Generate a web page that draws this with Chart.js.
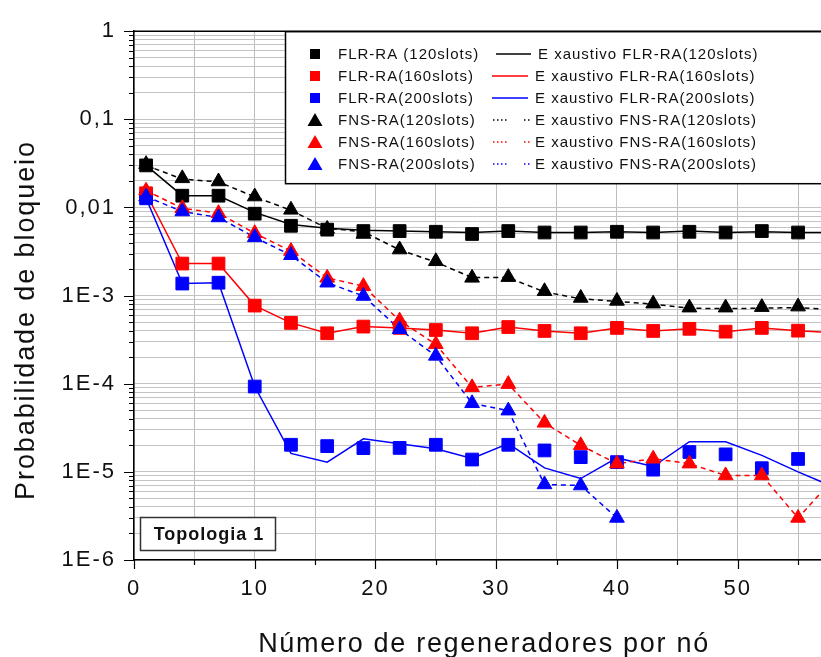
<!DOCTYPE html>
<html>
<head>
<meta charset="utf-8">
<script src="https://cdn.jsdelivr.net/npm/chart.js@4.4.1/dist/chart.umd.min.js"></script>
<style>
  html, body { margin: 0; padding: 0; background: #fff; overflow: hidden; }
  #wrap { width: 821px; height: 657px; overflow: hidden; }
  canvas { display: block; }
</style>
</head>
<body>
<div id="wrap"><canvas id="bloqueioChart" width="821" height="657"></canvas></div>
<script>
// eixo x: numero de regeneradores por no
const regeneradores = [1, 4, 7, 10, 13, 16, 19, 22, 25, 28, 31, 34, 37, 40, 43, 46, 49, 52, 55, 58];

// simulacao (marcadores)
const flr120 = [0.030, 0.0136, 0.0136, 0.0085, 0.0062, 0.0056, 0.0054, 0.0054, 0.0053, 0.0050, 0.0054, 0.0052, 0.0052, 0.0053, 0.0052, 0.0053, 0.0052, 0.0054, 0.0052];
const flr160 = [0.0145, 0.00231, 0.00231, 0.00077, 0.00049, 0.000374, 0.000445, 0.00043, 0.000407, 0.000374, 0.00044, 0.000397, 0.000374, 0.00043, 0.000397, 0.00042, 0.00039, 0.00043, 0.00040];
const flr200 = [0.0127, 0.00137, 0.0014, 9.3e-5, 2.03e-5, 1.96e-5, 1.86e-5, 1.87e-5, 2.03e-5, 1.38e-5, 2.03e-5, 1.75e-5, 1.47e-5, 1.29e-5, 1.06e-5, 1.68e-5, 1.58e-5, 1.1e-5, 1.4e-5];
const fns120 = [0.031, 0.0214, 0.0197, 0.0133, 0.0094, 0.0057, 0.0050, 0.00333, 0.00245, 0.00159, 0.00162, 0.00112, 0.00094, 0.00087, 0.00081, 0.00073, 0.00073, 0.00074, 0.00075];
const fns160 = [0.0155, 0.0098, 0.0086, 0.0051, 0.0032, 0.00159, 0.00128, 0.00052, 0.00028, 9.1e-5, 9.9e-5, 3.6e-5, 2.0e-5, 1.24e-5, 1.41e-5, 1.24e-5, 9.1e-6, 9.1e-6, 3.0e-6];
const fns200 = [0.0133, 0.0090, 0.0077, 0.00458, 0.00287, 0.0014, 0.00099, 0.000415, 0.000207, 6.0e-5, 4.95e-5, 7.2e-6, 7.0e-6, 3.0e-6];

// exaustivo (linhas)
const exFlr120 = [0.030, 0.0136, 0.0136, 0.0088, 0.0064, 0.0058, 0.0055, 0.0054, 0.0053, 0.0052, 0.0054, 0.0052, 0.0052, 0.0053, 0.0052, 0.0054, 0.0052, 0.0053, 0.0052, 0.0052];
const exFlr160 = [0.0145, 0.00231, 0.00231, 0.00077, 0.00049, 0.000374, 0.000445, 0.00043, 0.000407, 0.000374, 0.00044, 0.000397, 0.000374, 0.00043, 0.000397, 0.00042, 0.00039, 0.00043, 0.00040, 0.00038];
const exFlr200 = [0.0127, 0.00137, 0.0014, 9.3e-5, 1.62e-5, 1.29e-5, 2.37e-5, 2.09e-5, 1.83e-5, 1.42e-5, 2.09e-5, 1.11e-5, 8.4e-6, 1.44e-5, 1.15e-5, 2.2e-5, 2.2e-5, 1.54e-5, 1.0e-5, 6.7e-6];
const exFns120 = [0.030, 0.021, 0.0195, 0.0132, 0.0093, 0.0058, 0.0053, 0.0033, 0.0024, 0.0016, 0.0016, 0.0011, 0.00092, 0.00086, 0.0008, 0.00072, 0.00071, 0.00072, 0.00073, 0.00069];
const exFns160 = [0.0155, 0.0098, 0.0086, 0.0051, 0.0032, 0.00159, 0.00128, 0.00052, 0.00028, 9.1e-5, 9.9e-5, 3.6e-5, 2.0e-5, 1.24e-5, 1.41e-5, 1.24e-5, 9.1e-6, 9.1e-6, 3.0e-6, 8.5e-6];
const exFns200 = [0.0133, 0.0090, 0.0077, 0.00458, 0.00287, 0.0014, 0.00099, 0.000415, 0.000207, 6.0e-5, 4.95e-5, 7.2e-6, 7.0e-6, 3.0e-6];

// ticks
const xTickLabels = [0, 10, 20, 30, 40, 50];
const yTickValues = [1e-6, 1e-5, 1e-4, 1e-3, 0.01, 0.1, 1];
const yTickLabels = ['1E-6', '1E-5', '1E-4', '1E-3', '0,01', '0,1', '1'];

// legenda
const legendMarkerLabels = ['FLR-RA (120slots)', 'FLR-RA(160slots)', 'FLR-RA(200slots)', 'FNS-RA(120slots)', 'FNS-RA(160slots)', 'FNS-RA(200slots)'];
const legendLineLabels = ['E xaustivo FLR-RA(120slots)', 'E xaustivo FLR-RA(160slots)', 'E xaustivo FLR-RA(200slots)', 'E xaustivo FNS-RA(120slots)', 'E xaustivo FNS-RA(160slots)', 'E xaustivo FNS-RA(200slots)'];
const tituloX = 'Número de regeneradores por nó';
const tituloY = 'Probabilidade de bloqueio';
const topologia = 'Topologia 1';

const FONT = '"Liberation Sans", Arial, sans-serif';
const BLACK = '#000000', RED = '#ff0000', BLUE = '#0000ff';

const toPoints = vals => vals.map((v, i) => ({ x: regeneradores[i], y: v }));

// linhas de grade: 1..9 x cada decada
const yGrid = [];
for (let i = 0; i < yTickValues.length - 1; i++) {
  for (let m = 1; m <= 9; m++) yGrid.push(m * yTickValues[i]);
}
yGrid.push(1);

const markerSet = (label, vals, color, style, order) => ({
  label, data: toPoints(vals), showLine: false, order,
  pointStyle: style, pointRadius: style === 'rect' ? 9 : 8.5,
  backgroundColor: color, borderColor: color, pointBorderWidth: 1
});
const lineSet = (label, vals, color, dashed, order) => ({
  label, data: toPoints(vals), order,
  borderColor: color, borderWidth: 1.5, borderDash: dashed ? [5, 4] : [],
  pointRadius: 0, tension: 0, fill: false
});

// legenda, caixa topologia, titulos e marcas dos eixos
const decorPlugin = {
  id: 'decor',
  beforeDraw(chart) {
    chart.ctx.letterSpacing = '2px';
  },
  afterDatasetsDraw(chart) {
    const ctx = chart.ctx;
    const area = chart.chartArea;
    ctx.save();
    // borda superior
    ctx.strokeStyle = '#000';
    ctx.lineWidth = 1.5;
    ctx.beginPath();
    ctx.moveTo(area.left, area.top);
    ctx.lineTo(chart.width, area.top);
    ctx.stroke();

    // caixa da legenda
    ctx.fillStyle = '#fff';
    ctx.fillRect(285, area.top, 560, 152);
    ctx.strokeRect(285.5, area.top + 0.5, 560, 152);

    const colors = [BLACK, RED, BLUE, BLACK, RED, BLUE];
    ctx.font = '15px ' + FONT;
    ctx.letterSpacing = '1px';
    ctx.textBaseline = 'middle';
    ctx.textAlign = 'left';
    legendMarkerLabels.forEach((lab, i) => {
      const y = 54 + i * 22;
      const c = colors[i];
      ctx.fillStyle = c;
      if (i < 3) {
        ctx.fillRect(310, y - 5, 10, 10);
      } else {
        ctx.beginPath();
        ctx.moveTo(315, y - 7);
        ctx.lineTo(322.5, y + 6);
        ctx.lineTo(307.5, y + 6);
        ctx.closePath();
        ctx.fill();
      }
      ctx.fillStyle = '#111';
      ctx.fillText(lab, 338, y + 1);

      ctx.strokeStyle = c;
      ctx.lineWidth = 1.3;
      if (i < 3) {
        ctx.setLineDash([]);
        ctx.beginPath();
        ctx.moveTo(i === 0 ? 496 : 492, y);
        ctx.lineTo(i === 0 ? 531 : 528, y);
        ctx.stroke();
      } else {
        ctx.setLineDash([1.5, 2.5]);
        ctx.beginPath();
        ctx.moveTo(493, y);
        ctx.lineTo(508, y);
        ctx.moveTo(524, y);
        ctx.lineTo(531, y);
        ctx.stroke();
        ctx.setLineDash([]);
      }
      ctx.fillStyle = '#111';
      ctx.fillText(legendLineLabels[i], i === 0 ? 538 : 535, y + 1);
    });

    // caixa "Topologia 1"
    ctx.fillStyle = '#fff';
    ctx.fillRect(140, 517, 136, 34);
    ctx.strokeStyle = '#333';
    ctx.lineWidth = 1.5;
    ctx.strokeRect(140.5, 517.5, 135, 33);
    ctx.fillStyle = '#111';
    ctx.font = 'bold 18px ' + FONT;
    ctx.letterSpacing = '1px';
    ctx.textAlign = 'center';
    ctx.fillText(topologia, 209, 535);
    ctx.restore();
  },
  afterDraw(chart) {
    const ctx = chart.ctx;
    const xs = chart.scales.x, ys = chart.scales.y;
    const area = chart.chartArea;
    ctx.save();
    ctx.strokeStyle = '#000';
    ctx.lineWidth = 1.2;
    ctx.beginPath();
    for (let v = 0; v <= 55; v += 5) {
      const px = Math.round(xs.getPixelForValue(v)) + 0.5;
      ctx.moveTo(px, area.bottom);
      ctx.lineTo(px, area.bottom + (v % 10 === 0 ? 9 : 5));
    }
    yGrid.forEach(v => {
      const py = Math.round(ys.getPixelForValue(v)) + 0.5;
      ctx.moveTo(area.left, py);
      ctx.lineTo(area.left - (yTickValues.includes(v) ? 10 : 5), py);
    });
    ctx.stroke();

    // titulos dos eixos
    ctx.fillStyle = '#111';
    ctx.font = '27px ' + FONT;
    ctx.letterSpacing = '1.7px';
    ctx.textAlign = 'center';
    ctx.textBaseline = 'alphabetic';
    ctx.fillText(tituloX, 484, 652);
    ctx.translate(34, 320);
    ctx.rotate(-Math.PI / 2);
    ctx.letterSpacing = '1.9px';
    ctx.fillText(tituloY, 0, 0);
    ctx.restore();
  }
};

const ctxBloqueio = document.getElementById('bloqueioChart').getContext('2d');
const bloqueioChart = new Chart(ctxBloqueio, {
  type: 'line',
  data: {
    datasets: [
      markerSet('FLR-RA (120slots)', flr120, BLACK, 'rect', 6),
      markerSet('FLR-RA(160slots)', flr160, RED, 'rect', 5),
      markerSet('FLR-RA(200slots)', flr200, BLUE, 'rect', 4),
      markerSet('FNS-RA(120slots)', fns120, BLACK, 'triangle', 3),
      markerSet('FNS-RA(160slots)', fns160, RED, 'triangle', 2),
      markerSet('FNS-RA(200slots)', fns200, BLUE, 'triangle', 1),
      lineSet('Exaustivo FLR-RA(120slots)', exFlr120, BLACK, false, 12),
      lineSet('Exaustivo FLR-RA(160slots)', exFlr160, RED, false, 11),
      lineSet('Exaustivo FLR-RA(200slots)', exFlr200, BLUE, false, 10),
      lineSet('Exaustivo FNS-RA(120slots)', exFns120, BLACK, true, 9),
      lineSet('Exaustivo FNS-RA(160slots)', exFns160, RED, true, 8),
      lineSet('Exaustivo FNS-RA(200slots)', exFns200, BLUE, true, 7)
    ]
  },
  options: {
    responsive: false,
    animation: false,
    devicePixelRatio: 1,
    layout: { autoPadding: false, padding: { top: 29, right: 0, left: 0, bottom: 0 } },
    plugins: {
      legend: { display: false },
      tooltip: { enabled: false }
    },
    scales: {
      x: {
        type: 'linear',
        min: 0,
        max: 56.9,
        grid: { color: '#bdbdbd', lineWidth: 1, drawTicks: false },
        border: { color: '#000', width: 1.5 },
        ticks: {
          stepSize: 5,
          includeBounds: false,
          autoSkip: false,
          maxRotation: 0,
          padding: 16,
          color: '#111',
          font: { family: FONT, size: 22 },
          callback: v => (xTickLabels.includes(v) ? String(v) : '')
        },
        afterFit: scale => { scale.height = 97; }
      },
      y: {
        type: 'logarithmic',
        min: 1e-6,
        max: 1,
        grid: { color: '#c4c4c4', lineWidth: 1, drawTicks: false },
        border: { color: '#000', width: 1.5 },
        afterBuildTicks: scale => {
          scale.ticks = yGrid.map(v => ({ value: v, major: yTickValues.includes(v) }));
        },
        ticks: {
          autoSkip: false,
          padding: 18,
          color: '#111',
          font: { family: FONT, size: 22 },
          callback: v => {
            const idx = yTickValues.indexOf(v);
            return idx >= 0 ? yTickLabels[idx] : '';
          }
        },
        afterFit: scale => { scale.width = 134; }
      }
    }
  },
  plugins: [decorPlugin]
});
</script>
</body>
</html>
